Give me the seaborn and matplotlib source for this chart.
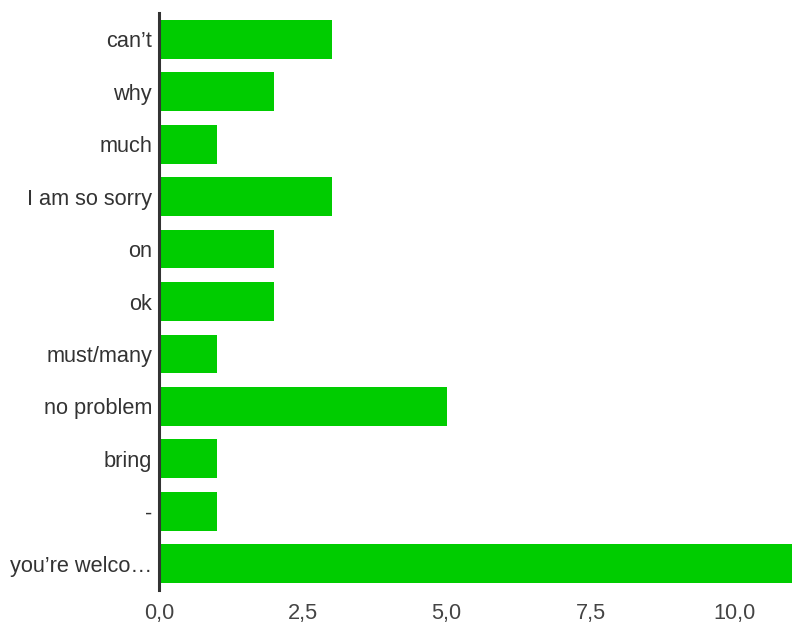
import pandas as pd
import seaborn as sns
import matplotlib.pyplot as plt

labels = ["can’t", "why", "much", "I am so sorry", "on", "ok", "must/many",
          "no problem", "bring", "-", "you’re welco…"]
counts = [3, 2, 1, 3, 2, 2, 1, 5, 1, 1, 11]

df = pd.DataFrame({"label": labels, "count": counts})

sns.set_style("white")
plt.rcParams['font.family'] = ['Liberation Sans', 'DejaVu Sans']

fig = plt.figure(figsize=(7.92, 6.28), dpi=100)
ax = fig.add_axes([159 / 792, 1 - 590 / 628, 1 - 159 / 792, (590 - 13) / 628])

sns.barplot(data=df, x="count", y="label", orient="h", color="#00cc00",
            saturation=1, width=0.74, linewidth=0, ax=ax)

ax.set_xlim(0, 11)
ax.set_ylim(10.5, -0.5)
ax.set_xticks([0, 2.5, 5, 7.5, 10])
ax.set_xticklabels(["0,0", "2,5", "5,0", "7,5", "10,0"])
ax.set_xlabel("")
ax.set_ylabel("")
ax.tick_params(axis="y", labelsize=15.7, colors="#333333", length=0, pad=5)
ax.tick_params(axis="x", labelsize=15.7, colors="#444444", length=0, pad=9)

for s in ["top", "right", "bottom"]:
    ax.spines[s].set_visible(False)
ax.spines["left"].set_color("#333333")
ax.spines["left"].set_linewidth(2.2)
ax.spines["left"].set_zorder(5)

fig.savefig("out.png", dpi=100)
